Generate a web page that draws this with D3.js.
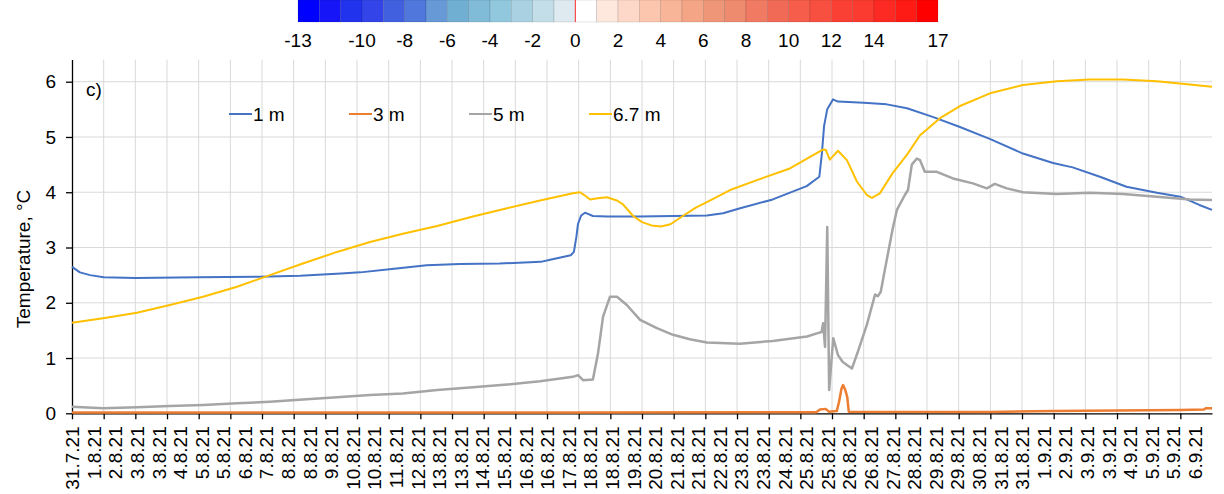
<!DOCTYPE html>
<html><head><meta charset="utf-8">
<script src="https://cdn.jsdelivr.net/npm/d3@7"></script>
<style>
body{margin:0;background:#fff}
svg{display:block}
text{font-family:"Liberation Sans",Arial,Helvetica,sans-serif;fill:#000}
</style>
</head><body>
<svg id="chart" width="1224" height="494"></svg>
<script>
// ---------------- DATA ----------------
const dateLabels = ["31.7.21","1.8.21","2.8.21","3.8.21","3.8.21","4.8.21","5.8.21","5.8.21","6.8.21","7.8.21","8.8.21","8.8.21","9.8.21","10.8.21","10.8.21","11.8.21","12.8.21","13.8.21","13.8.21","14.8.21","15.8.21","16.8.21","16.8.21","17.8.21","18.8.21","18.8.21","19.8.21","20.8.21","21.8.21","21.8.21","22.8.21","23.8.21","23.8.21","24.8.21","25.8.21","25.8.21","26.8.21","26.8.21","27.8.21","28.8.21","29.8.21","29.8.21","30.8.21","31.8.21","31.8.21","1.9.21","2.9.21","3.9.21","3.9.21","4.9.21","5.9.21","5.9.21","6.9.21"];
const labelStep = 15/22;          // label spacing in time units
const timeDomain = [0, 36];
const tickTimes = d3.range(0, 36);
const yTicks = [0,1,2,3,4,5,6];
const yDomain = [0, 6.4];

const seriesNames = ["1 m","3 m","5 m","6.7 m"];

const temp1m = [[0,2.65],[0.25,2.55],[0.57,2.50],[1.0,2.46],[2,2.45],[4,2.46],[5.9,2.47],[7.2,2.49],[8.5,2.53],[9.1,2.55],[10.1,2.61],[11.2,2.68],[12.25,2.70],[13.5,2.71],[14.8,2.74],[15.1,2.78],[15.75,2.86],[15.85,2.92],[15.93,3.2],[15.98,3.43],[16.08,3.58],[16.2,3.63],[16.45,3.57],[16.9,3.56],[17.9,3.56],[19,3.57],[20.05,3.58],[20.56,3.62],[21.1,3.71],[22.13,3.87],[23.2,4.11],[23.6,4.28],[23.68,4.7],[23.75,5.2],[23.85,5.5],[24.03,5.68],[24.19,5.64],[25,5.62],[25.73,5.59],[26.37,5.52],[27.2,5.36],[28.04,5.18],[29,4.96],[30.03,4.70],[30.98,4.53],[31.6,4.45],[32.46,4.28],[33.3,4.10],[34.26,3.99],[35,3.92],[35.6,3.77],[36,3.68]];

const temp3m = [[0,0.015],[15.9,0.015],[23.5,0.02],[23.62,0.07],[23.8,0.08],[23.9,0.03],[24.15,0.04],[24.22,0.2],[24.3,0.45],[24.35,0.51],[24.42,0.42],[24.48,0.3],[24.53,0.03],[29,0.025],[31,0.04],[33,0.05],[35,0.06],[35.75,0.07],[35.8,0.09],[36,0.09]];

const temp5m = [[0,0.12],[0.98,0.09],[2.05,0.11],[3.09,0.13],[4.14,0.15],[5.21,0.18],[6.25,0.21],[7.29,0.25],[8.37,0.29],[9.41,0.33],[10.45,0.36],[11.53,0.42],[12.66,0.47],[13.74,0.52],[14.78,0.58],[15.82,0.66],[15.98,0.69],[16.14,0.60],[16.45,0.61],[16.61,1.08],[16.77,1.75],[16.99,2.11],[17.21,2.11],[17.52,1.96],[17.94,1.69],[18.47,1.54],[18.98,1.42],[19.51,1.34],[20.05,1.28],[21.09,1.26],[22.13,1.31],[23.21,1.39],[23.55,1.45],[23.67,1.47],[23.72,1.63],[23.78,1.20],[23.85,3.37],[23.91,0.42],[24.04,1.36],[24.19,1.05],[24.34,0.93],[24.63,0.81],[24.82,1.12],[25.10,1.6],[25.36,2.15],[25.45,2.12],[25.54,2.2],[25.67,2.6],[25.92,3.35],[26.05,3.68],[26.30,3.95],[26.40,4.04],[26.52,4.50],[26.68,4.61],[26.78,4.58],[26.93,4.37],[27.31,4.37],[27.82,4.25],[28.45,4.16],[28.89,4.07],[29.14,4.15],[29.52,4.07],[30.03,4.00],[31.10,3.97],[32.14,3.99],[33.19,3.97],[34.26,3.92],[35.30,3.87],[36,3.86]];

const temp67m = [[0,1.64],[0.98,1.72],[2.05,1.82],[3.09,1.96],[4.14,2.11],[5.21,2.29],[6.25,2.50],[7.29,2.71],[8.37,2.92],[9.41,3.10],[10.45,3.25],[11.53,3.39],[12.66,3.56],[13.74,3.71],[14.78,3.85],[15.82,3.98],[16.04,4.0],[16.2,3.94],[16.36,3.87],[16.6,3.89],[16.89,3.91],[17.21,3.85],[17.4,3.78],[17.72,3.57],[18.0,3.46],[18.3,3.40],[18.6,3.38],[18.9,3.42],[19.29,3.57],[19.7,3.72],[20.05,3.82],[20.78,4.04],[21.63,4.22],[22.67,4.43],[23.71,4.77],[23.8,4.77],[23.93,4.59],[24.19,4.75],[24.47,4.58],[24.79,4.19],[25.10,3.95],[25.26,3.90],[25.51,3.98],[25.92,4.35],[26.37,4.68],[26.78,5.03],[27.41,5.34],[28.04,5.56],[28.99,5.79],[30.03,5.94],[31.10,6.01],[32.14,6.04],[33.19,6.04],[34.26,6.01],[35.30,5.95],[36,5.91]];

// colour scale bar
const scaleDomain = [-13, 17];
const scaleStarts = d3.range(-13, 17);
const scaleColors = ["#0000ff","#1515f8","#2233ee","#3344e8","#4060e0","#5078dc","#6699d6","#70afd2","#80bcd8","#92c8dd","#a9d1e2","#c3dee8","#deeaf0","#ffffff","#fee8de","#fdd7c7","#fcc5ad","#f8b597","#f3a585","#ee9677","#ee8a6e","#f07a62","#f06a55","#f65d4a","#f85040","#fa4035","#fb3a30","#fc2a22","#fe1a15","#ff0000"];
const scaleTickValues = [-13,-10,-8,-6,-4,-2,0,2,4,6,8,10,12,14,17];

// ---------------- DRAW ----------------
const FONT = '"Liberation Sans",Arial,sans-serif';
const svg = d3.select("#chart");
const colors = ["#4472c4","#ed7d31","#a5a5a5","#ffc000"];
const widths = [2, 2.5, 2.5, 2];
const allSeries = [temp1m, temp3m, temp5m, temp67m];

const pL = 72, pR = 1212, pT = 59.6, pB = 413.3;
const x = d3.scaleLinear().domain(timeDomain).range([pL, pR]);
const y = d3.scaleLinear().domain(yDomain).range([pB, pT]);

// colour bar
const cb = d3.scaleLinear().domain(scaleDomain).range([298, 938]);
const cbG = svg.append("g");
cbG.selectAll("rect").data(scaleStarts).join("rect")
  .attr("x", d => cb(d)).attr("y", 0)
  .attr("width", d => cb(d+1) - cb(d)).attr("height", 22)
  .attr("fill", (d,i) => scaleColors[i])
  .attr("stroke", "rgba(0,0,0,0.18)").attr("stroke-width", 0.6);
cbG.append("line").attr("x1", cb(0)).attr("x2", cb(0)).attr("y1", 0).attr("y2", 22)
  .attr("stroke", "#ff3030").attr("stroke-width", 1);
cbG.selectAll("text").data(scaleTickValues).join("text")
  .attr("x", d => cb(d)).attr("y", 47)
  .attr("text-anchor", "middle").attr("font-size", 19)
  .text(d => d);

// grid
const grid = svg.append("g").attr("stroke", "#d9d9d9").attr("stroke-width", 1);
grid.selectAll(".h").data(yTicks.filter(d => d > 0)).join("line").attr("class","h")
  .attr("x1", pL).attr("x2", pR).attr("y1", d => y(d)).attr("y2", d => y(d));
grid.selectAll(".v").data(tickTimes.filter(d => d > 0)).join("line").attr("class","v")
  .attr("y1", pT).attr("y2", pB).attr("x1", d => x(d)).attr("x2", d => x(d));

// axes
const yAxis = svg.append("g").attr("transform", `translate(${pL},0)`)
  .call(d3.axisLeft(y).tickValues(yTicks).tickFormat(d3.format("d"))
    .tickSize(6).tickPadding(10).tickSizeOuter(0));
yAxis.attr("font-size", null).attr("font-family", null);
yAxis.selectAll("text").attr("font-size", 19).style("font-family", FONT);
yAxis.selectAll("line, path").attr("stroke", "#000").attr("stroke-width", 1.3);

const xAxis = svg.append("g").attr("transform", `translate(0,${pB})`)
  .call(d3.axisBottom(x).tickValues(tickTimes).tickSize(6).tickFormat("").tickSizeOuter(0));
xAxis.selectAll("line, path").attr("stroke", "#000").attr("stroke-width", 1.3);

const labelTimes = dateLabels.map((d,i) => i * labelStep);
const xLab = svg.append("g").attr("transform", `translate(0,${pB})`)
  .call(d3.axisBottom(x).tickValues(labelTimes).tickSize(0)
    .tickFormat((d,i) => dateLabels[i]));
xLab.attr("font-size", null).attr("font-family", null);
xLab.select("path").remove();
xLab.selectAll("text")
  .attr("font-size", 19).style("font-family", FONT)
  .attr("transform", "rotate(-90)")
  .attr("x", -13).attr("y", 0).attr("dy", "0.35em")
  .style("text-anchor", "end");

// y title
svg.append("text").attr("transform", `translate(30,259) rotate(-90)`)
  .attr("text-anchor", "middle").attr("font-size", 19).text("Temperature, °C");

// panel label
svg.append("text").attr("x", 86).attr("y", 96).attr("font-size", 19).text("c)");

// series
const line = d3.line().x(d => x(d[0])).y(d => y(d[1]));
svg.append("g").selectAll("path").data(allSeries).join("path")
  .attr("d", line).attr("fill", "none")
  .attr("stroke", (d,i) => colors[i]).attr("stroke-width", (d,i) => widths[i])
  .attr("stroke-linejoin", "round");

// legend
const lg = svg.append("g").selectAll("g").data(seriesNames).join("g")
  .attr("transform", (d,i) => `translate(${229 + i*120},114)`);
lg.append("line").attr("x1", 0).attr("x2", 23).attr("y1", 0).attr("y2", 0)
  .attr("stroke", (d,i) => colors[i]).attr("stroke-width", 2);
lg.append("text").attr("x", 24).attr("dy", "0.35em").attr("font-size", 19).text(d => d);
</script>
</body></html>
